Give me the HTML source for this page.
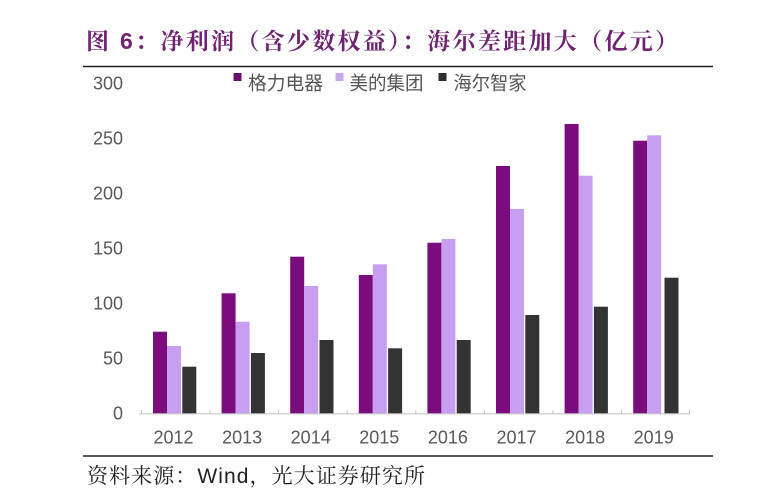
<!DOCTYPE html>
<html><head><meta charset="utf-8"><style>
html,body{margin:0;padding:0;background:#fff;}
svg{display:block;}
</style></head><body>
<svg width="772" height="501" viewBox="0 0 772 501" xmlns="http://www.w3.org/2000/svg">
<rect width="772" height="501" fill="#fff"/>
<text x="86" y="49" font-family="'Liberation Sans','Noto Serif CJK SC',serif" font-weight="bold" font-size="23" fill="#6e2470" textLength="592" lengthAdjust="spacing">图 6：净利润（含少数权益）：海尔差距加大（亿元）</text>
<line x1="83" y1="66.5" x2="713" y2="66.5" stroke="#222" stroke-width="1.5"/>
<g font-family="'Liberation Sans','Noto Sans CJK SC',sans-serif" font-size="19" fill="#555">
<rect x="233.5" y="73" width="8" height="8" fill="#6a0f6c"/>
<text x="248" y="89.5" textLength="75" lengthAdjust="spacingAndGlyphs">格力电器</text>
<rect x="335.5" y="73" width="8" height="8" fill="#c8a6ea"/>
<text x="349.5" y="89.5" textLength="74" lengthAdjust="spacingAndGlyphs">美的集团</text>
<rect x="438.5" y="73" width="8" height="8" fill="#2e2e2e"/>
<text x="453.5" y="89.5" textLength="73" lengthAdjust="spacingAndGlyphs">海尔智家</text>
</g>
<g font-family="'Liberation Sans',sans-serif" font-size="18" fill="#595959" text-anchor="end">
<text x="123" y="89.5">300</text>
<text x="123" y="144.5">250</text>
<text x="123" y="199.5">200</text>
<text x="123" y="254.5">150</text>
<text x="123" y="309.5">100</text>
<text x="123" y="364.5">50</text>
<text x="123" y="419.5">0</text>
</g>
<g fill="#7b0c7e">
<rect x="153" y="331.7" width="14" height="81.8"/>
<rect x="221.6" y="293.3" width="14" height="120.2"/>
<rect x="290.2" y="256.7" width="14" height="156.8"/>
<rect x="358.8" y="275" width="14" height="138.5"/>
<rect x="427.4" y="242.7" width="14" height="170.8"/>
<rect x="496" y="166" width="14" height="247.5"/>
<rect x="564.6" y="124" width="14" height="289.5"/>
<rect x="633.2" y="140.7" width="14" height="272.8"/>
</g>
<g fill="#c79ef0">
<rect x="167" y="346" width="14" height="67.5"/>
<rect x="235.6" y="321.7" width="14" height="91.8"/>
<rect x="304.2" y="286" width="14" height="127.5"/>
<rect x="372.8" y="264.3" width="14" height="149.2"/>
<rect x="441.4" y="239" width="14" height="174.5"/>
<rect x="510" y="209" width="14" height="204.5"/>
<rect x="578.6" y="175.7" width="14" height="237.8"/>
<rect x="647.2" y="135.3" width="14" height="278.2"/>
</g>
<g fill="#333333">
<rect x="182.3" y="366.7" width="14" height="46.8"/>
<rect x="250.9" y="353" width="14" height="60.5"/>
<rect x="319.5" y="340" width="14" height="73.5"/>
<rect x="388.1" y="348.3" width="14" height="65.2"/>
<rect x="456.7" y="340" width="14" height="73.5"/>
<rect x="525.3" y="315" width="14" height="98.5"/>
<rect x="593.9" y="306.7" width="14" height="106.8"/>
<rect x="664.5" y="277.7" width="14" height="135.8"/>
</g>
<line x1="139" y1="413.8" x2="690" y2="413.8" stroke="#c8c8c8" stroke-width="1.2"/>
<g stroke="#c8c8c8" stroke-width="1">
<line x1="141.5" y1="410" x2="141.5" y2="414"/>
<line x1="210" y1="410" x2="210" y2="414"/>
<line x1="278.6" y1="410" x2="278.6" y2="414"/>
<line x1="347.2" y1="410" x2="347.2" y2="414"/>
<line x1="415.8" y1="410" x2="415.8" y2="414"/>
<line x1="484.4" y1="410" x2="484.4" y2="414"/>
<line x1="553" y1="410" x2="553" y2="414"/>
<line x1="621.6" y1="410" x2="621.6" y2="414"/>
<line x1="689.5" y1="410" x2="689.5" y2="414"/>
</g>
<g font-family="'Liberation Sans',sans-serif" font-size="18" fill="#595959" text-anchor="middle">
<text x="173.5" y="443.5">2012</text>
<text x="242.1" y="443.5">2013</text>
<text x="310.7" y="443.5">2014</text>
<text x="379.3" y="443.5">2015</text>
<text x="447.9" y="443.5">2016</text>
<text x="516.5" y="443.5">2017</text>
<text x="585.1" y="443.5">2018</text>
<text x="653.7" y="443.5">2019</text>
</g>
<line x1="83" y1="456" x2="713" y2="456" stroke="#222" stroke-width="1.5"/>
<text x="87" y="483" font-family="'Liberation Serif','Noto Serif CJK SC',serif" font-size="21" fill="#222" textLength="338" lengthAdjust="spacing">资料来源：<tspan font-family="'Liberation Sans',sans-serif">Wind</tspan>，光大证券研究所</text>
</svg>
</body></html>
